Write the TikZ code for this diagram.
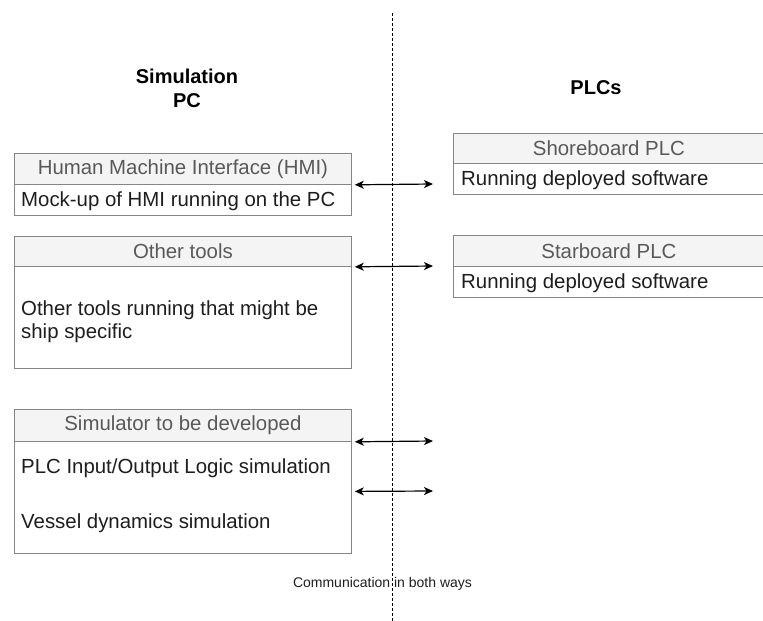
\documentclass[tikz,border=0pt]{standalone}
\usepackage{fontspec}
\setmainfont{Liberation Sans}
\usetikzlibrary{arrows.meta}

\definecolor{frame}{HTML}{858585}
\definecolor{headfill}{HTML}{F4F4F4}
\definecolor{headtext}{HTML}{595959}
\definecolor{bodytext}{HTML}{1E1E1E}

\begin{document}
\begin{tikzpicture}[x=1pt,y=-1pt,
  headbox/.style={draw=frame, fill=headfill, line width=0.8pt, inner sep=0pt,
    anchor=north west, text=headtext, font=\fontsize{20.4}{24}\selectfont},
  bodybox/.style={draw=frame, fill=white, line width=0.8pt, inner sep=0pt,
    anchor=north west},
  bodytxt/.style={anchor=west, inner sep=0pt, text=bodytext,
    font=\fontsize{20.4}{23}\selectfont, align=left},
  titletxt/.style={inner sep=0pt, text=black, align=center,
    font=\fontsize{20}{24}\selectfont\bfseries},
  conn/.style={{Stealth[length=9pt,width=8pt,inset=2.5pt]}-{Stealth[length=9pt,width=8pt,inset=2.5pt]},
    line width=1.2pt, black},
  divider/.style={black, line width=0.8pt, dash pattern=on 3pt off 2pt}
]
\useasboundingbox (0,0) rectangle (763,621);
\clip (0,0) rectangle (763,621);
\fill[white] (0,0) rectangle (763,621);

% dividing line between the two sides
\coordinate (divtop) at (392,13);
\coordinate (divbot) at (392,621);
\draw[divider] (divtop) -- (divbot);

% column titles
\node[titletxt] (pctitle) at (187,88) {Simulation\\PC};
\node[titletxt] (plctitle) at (596,88) {PLCs};

% Simulation PC: HMI
\node[headbox, minimum width=337pt, minimum height=31pt] (hmihead) at (14,153)
  {Human Machine Interface (HMI)};
\node[bodybox, minimum width=337pt, minimum height=31pt] (hmibody) at (14,184) {};
\node[bodytxt] (hmitxt) at ([xshift=7pt,yshift=-1.5pt]hmibody.west) {Mock-up of HMI running on the PC};

% Simulation PC: other tools
\node[headbox, minimum width=337pt, minimum height=30pt] (toolhead) at (14,236)
  {Other tools};
\node[bodybox, minimum width=337pt, minimum height=102pt] (toolbody) at (14,266) {};
\node[bodytxt] (tooltxt) at (21,321.5) {Other tools running that might be\\ship specific};

% Simulation PC: simulator
\node[headbox, minimum width=337pt, minimum height=32pt] (simhead) at (14,409)
  {Simulator to be developed};
\node[bodybox, minimum width=337pt, minimum height=112pt] (simbody) at (14,441) {};
\node[bodytxt] (siotxt) at (21,468) {PLC Input/Output Logic simulation};
\node[bodytxt] (vesseltxt) at (21,523) {Vessel dynamics simulation};

% PLCs: shoreboard
\node[headbox, minimum width=311pt, minimum height=30pt] (shorehead) at (453,133)
  {Shoreboard PLC};
\node[bodybox, minimum width=311pt, minimum height=31pt] (shorebody) at (453,163) {};
\node[bodytxt] (shoretxt) at ([xshift=8pt,yshift=-1pt]shorebody.west) {Running deployed software};

% PLCs: starboard
\node[headbox, minimum width=311pt, minimum height=31pt] (starhead) at (453,235)
  {Starboard PLC};
\node[bodybox, minimum width=311pt, minimum height=31pt] (starbody) at (453,266) {};
\node[bodytxt] (startxt) at ([xshift=8pt,yshift=-1pt]starbody.west) {Running deployed software};

% two-way links
\coordinate (hmiend) at (433,184);
\coordinate (toolend) at (433,266);
\coordinate (simend) at (433,441);
\coordinate (dynend) at (433,491);
\draw[conn] ([xshift=3pt]hmihead.south east) -- (hmiend);
\draw[conn] ([xshift=3pt]toolhead.south east) -- (toolend);
\draw[conn] ([xshift=3pt]simhead.south east) -- (simend);
\draw[conn] ([xshift=3pt,yshift=6pt]simbody.east) -- (dynend);

\node[inner sep=0pt, text=bodytext, font=\fontsize{14}{16}\selectfont] (commnote)
  at (382.5,584) {Communication in both ways};
\end{tikzpicture}
\end{document}
